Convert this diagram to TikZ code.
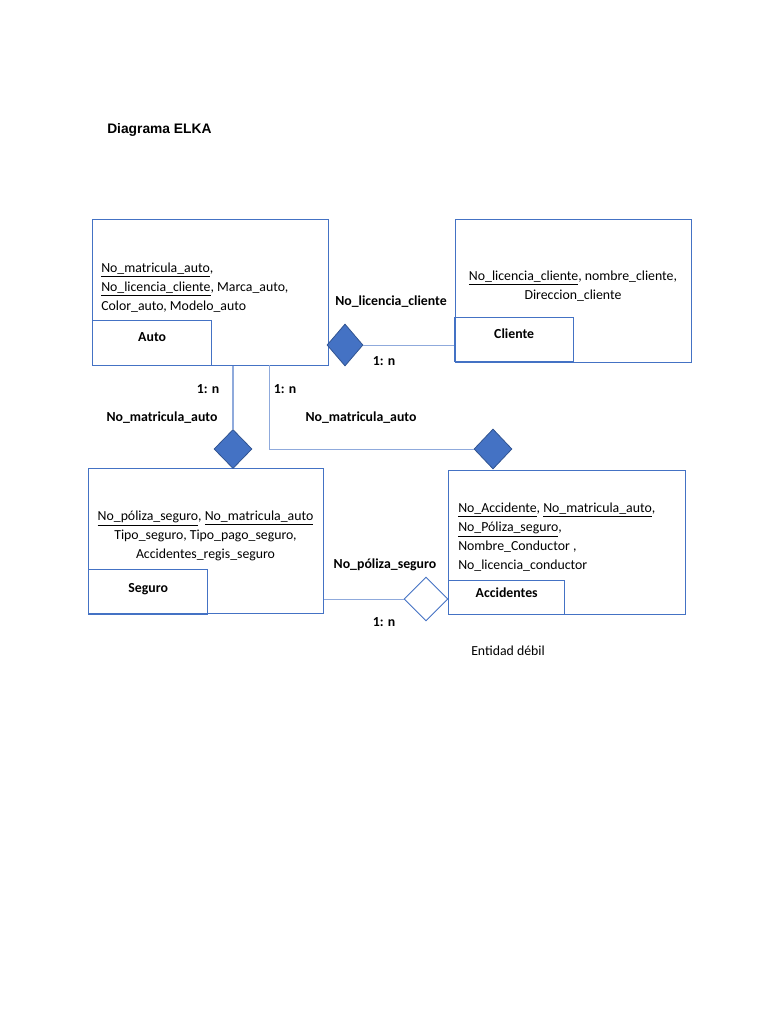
\documentclass[tikz,border=0pt]{standalone}
\usepackage{fontspec}
\setmainfont{Carlito}
\newfontfamily\titlefont{Liberation Sans}
\usepackage{tikz}
\usetikzlibrary{shapes.geometric,positioning}
\definecolor{boxblue}{HTML}{4472C4}
\definecolor{lineblue}{HTML}{8FAADC}
\definecolor{reldark}{HTML}{2F528F}
\tikzset{
  entbox/.style = {rectangle, draw=boxblue, line width=0.8pt, inner sep=0pt, anchor=north west},
  lblbox/.style = {rectangle, draw=boxblue, line width=1.1pt, inner sep=0pt, anchor=south west},
  lbltext/.style = {anchor=center, font=\fontsize{11}{13}\selectfont\bfseries},
  attr/.style = {inner sep=0pt, font=\fontsize{11}{15.1}\selectfont},
  relfill/.style = {diamond, draw=reldark, fill=boxblue, line width=0.6pt, inner sep=0pt},
  relweak/.style = {diamond, draw=boxblue, fill=white, line width=0.8pt, inner sep=0pt},
  myline/.style = {draw=lineblue, line width=0.8pt},
  mylabel/.style = {font=\fontsize{11}{13}\selectfont\bfseries, inner sep=0pt},
}

\begin{document}
\begin{tikzpicture}[x=0.797pt, y=-0.797pt, font=\fontsize{11}{13}\selectfont]
\useasboundingbox (0,0) rectangle (768,1024);
\node[font=\fontsize{11}{13}\selectfont\titlefont\bfseries, anchor=west, inner sep=0pt] (title) at (107,130) {Diagrama ELKA};

% entidades
\node[entbox, minimum width=188pt, minimum height=116.4pt] (auto) at (92,219) {};
\node[lblbox, minimum width=94.8pt, minimum height=35.9pt,
  label={[lbltext, yshift=-13.6pt]north:Auto}] (autolbl) at (auto.south west) {};
\node[attr, anchor=north west, align=left] (autoattr) at (101,263)
  {\underline{No\_matricula\_auto},\\ \underline{No\_licencia\_cliente}, Marca\_auto,\\ Color\_auto, Modelo\_auto};

\node[entbox, minimum width=188pt, minimum height=114pt] (cliente) at (455,219) {};
\node[lblbox, minimum width=94.8pt, minimum height=35pt,
  label={[lbltext, yshift=-13.6pt]north:Cliente}] (clientelbl) at (454,362) {};
\node[attr, anchor=north, align=center] (clienteattr) at (573,271)
  {\underline{No\_licencia\_cliente}, nombre\_cliente,\\ Direccion\_cliente};

\node[entbox, minimum width=187.3pt, minimum height=115.6pt] (seguro) at (88,468) {};
\node[lblbox, minimum width=94.8pt, minimum height=35.9pt,
  label={[lbltext, yshift=-16.6pt]north:Seguro}] (segurolbl) at (88,615) {};
\node[attr, anchor=north, align=center] (seguroattr) at (205.5,511)
  {\underline{No\_póliza\_seguro}, \underline{No\_matricula\_auto}\\ Tipo\_seguro, Tipo\_pago\_seguro,\\ Accidentes\_regis\_seguro};

\node[entbox, minimum width=188.9pt, minimum height=114.8pt] (accid) at (448,470) {};
\node[lblbox, minimum width=92.5pt, minimum height=27.1pt,
  label={[lbltext, yshift=-10.4pt]north:Accidentes}] (accidlbl) at (accid.south west) {};
\node[attr, anchor=north west, align=left] (accidattr) at (458,503)
  {\underline{No\_Accidente}, \underline{No\_matricula\_auto},\\ \underline{No\_Póliza\_seguro},\\ Nombre\_Conductor ,\\ No\_licencia\_conductor};

% relaciones
\node[relfill, minimum width=28.7pt, minimum height=33.5pt] (rcli) at (345,345) {};
\node[relfill, minimum width=30.3pt, minimum height=31.1pt] (rseg) at (233,449) {};
\node[relfill, minimum width=30.3pt, minimum height=31.9pt] (racc) at (493,449) {};
\node[relweak, minimum width=35pt, minimum height=35pt] (rpol) at (426,599) {};
\coordinate (autoout) at (269,365);

\draw[myline] (rcli.east) -- (clientelbl.west |- rcli.east);
\draw[myline] (rseg.north |- auto.south) -- (rseg.north);
\draw[myline] (autoout) |- (racc.west);
\draw[myline] (seguro.east |- rpol.west) -- (rpol.west);

% etiquetas
\node[mylabel] (lcli) at (391,302) {No\_licencia\_cliente};
\node[mylabel] (ccli) at (384,361) {1: n};
\node[mylabel] (cseg) at (208,389) {1: n};
\node[mylabel] (cacc) at (285,389) {1: n};
\node[mylabel] (lseg) at (162,418) {No\_matricula\_auto};
\node[mylabel] (lacc) at (361,418) {No\_matricula\_auto};
\node[mylabel] (lpol) at (385,565) {No\_póliza\_seguro};
\node[mylabel] (cpol) at (384,622) {1: n};
\node[inner sep=0pt] (weak) at (508,651) {Entidad débil};
\end{tikzpicture}
\end{document}
